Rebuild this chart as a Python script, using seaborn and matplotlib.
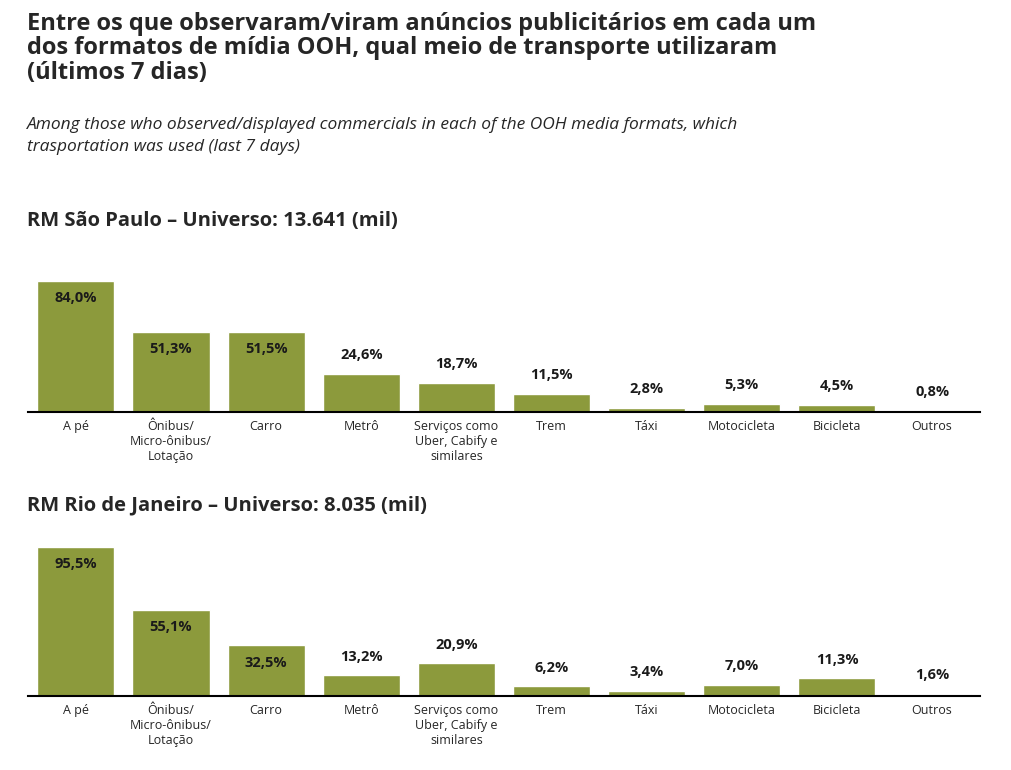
import matplotlib
matplotlib.use("Agg")
import matplotlib.pyplot as plt
import seaborn as sns
import pandas as pd

# ------------------------------------------------------------
# Data
# ------------------------------------------------------------
categories = ["A pé", "Ônibus/\nMicro-ônibus/\nLotação", "Carro", "Metrô",
              "Serviços como\nUber, Cabify e\nsimilares", "Trem", "Táxi",
              "Motocicleta", "Bicicleta", "Outros"]
sao_paulo = [84.0, 51.3, 51.5, 24.6, 18.7, 11.5, 2.8, 5.3, 4.5, 0.8]
rio = [95.5, 55.1, 32.5, 13.2, 20.9, 6.2, 3.4, 7.0, 11.3, 1.6]

title = ("Entre os que observaram/viram anúncios publicitários em cada um\n"
         "dos formatos de mídia OOH, qual meio de transporte utilizaram\n"
         "(últimos 7 dias)")
subtitle = ("Among those who observed/displayed commercials in each of the OOH media formats, which\n"
            "trasportation was used (last 7 days)")
heading_sp = "RM São Paulo – Universo: 13.641 (mil)"
heading_rj = "RM Rio de Janeiro – Universo: 8.035 (mil)"

BAR_COLOR = "#8c9a3c"

sns.set_style("white")
plt.rcParams["font.family"] = ["Open Sans", "DejaVu Sans"]

fig = plt.figure(figsize=(10.11, 7.7), dpi=100)

fig.text(0.027, 0.985, title, fontsize=17, fontweight="bold", va="top", linespacing=1.05)
fig.text(0.027, 0.848, subtitle, fontsize=12.5, style="italic", va="top", linespacing=1.5)
fig.text(0.027, 0.713, heading_sp, fontsize=14.5, fontweight="bold", va="center")
fig.text(0.027, 0.343, heading_rj, fontsize=14.5, fontweight="bold", va="center")


def draw_panel(ax, values):
    df = pd.DataFrame({"cat": categories, "val": values})
    sns.barplot(data=df, x="cat", y="val", color=BAR_COLOR, width=0.81,
                saturation=1, ax=ax)
    ax.set_ylim(0, 100)
    ax.set_xlim(-0.5, len(categories) - 0.5)
    for i, v in enumerate(values):
        label = f"{v:.1f}".replace(".", ",") + "%"
        y = v - 11 if v > 30 else v + 12
        ax.text(i, y, label, ha="center", va="center",
                fontsize=10.5, fontweight="bold", color="#1a1a1a")
    ax.set_xlabel("")
    ax.set_ylabel("")
    ax.set_yticks([])
    for s in ["top", "right", "left"]:
        ax.spines[s].set_visible(False)
    ax.spines["bottom"].set_color("black")
    ax.spines["bottom"].set_linewidth(1.5)
    ax.tick_params(axis="x", length=0, pad=6, labelsize=9)


ax1 = fig.add_axes([0.028, 0.465, 0.941, 0.2026])
draw_panel(ax1, sao_paulo)
ax2 = fig.add_axes([0.028, 0.096, 0.941, 0.2026])
draw_panel(ax2, rio)

fig.savefig("out.png", dpi=100)
